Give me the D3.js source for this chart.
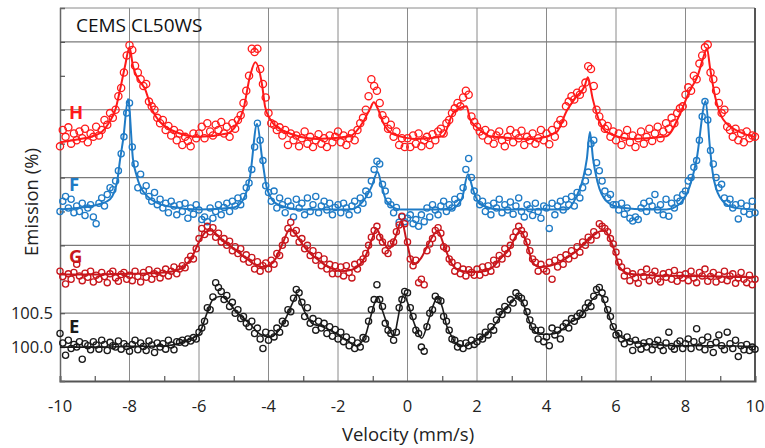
<!DOCTYPE html>
<html><head><meta charset="utf-8">
<script src="https://cdn.jsdelivr.net/npm/d3@7"></script>
<style>
html,body{margin:0;padding:0;background:#fff;}
svg text{font-family:"Open Sans",sans-serif;}
</style></head>
<body><svg id="c" width="765" height="448"></svg>
<script>
// velocity channels (mm/s): 251 channels from -10 to 10
const velocity = d3.range(251).map(i => Math.round((-10 + i * 0.08) * 100) / 100);

// measured points (Emission %), one value per channel
const pointsH = [
102.96,103.2,103.1,103.24,103.0,103.15,103.05,103.18,103.08,103.22,103.02,103.15,103.1,103.25,103.12,103.2,103.35,103.28,103.45,103.38,103.5,103.7,103.82,104.05,104.3,
104.45,104.38,104.15,104.05,103.95,103.85,103.88,103.62,103.55,103.5,103.38,103.3,103.35,103.2,103.26,103.12,103.2,103.05,103.15,102.98,103.1,103.04,102.96,103.15,103.08,
103.15,103.25,103.08,103.3,103.18,103.12,103.28,103.2,103.32,103.15,103.25,103.1,103.3,103.22,103.35,103.42,103.6,103.78,104.0,104.4,104.35,104.4,104.1,103.88,103.68,
103.45,103.3,103.28,103.2,103.24,103.12,103.2,102.98,103.15,103.05,103.12,102.96,103.08,103.18,103.0,103.1,102.95,103.05,103.14,103.0,103.08,102.95,103.12,103.02,103.1,
103.18,103.02,103.12,102.98,103.08,103.15,103.05,103.2,103.3,103.38,103.5,103.7,103.95,103.85,103.78,103.6,103.42,103.35,103.22,103.28,103.1,103.18,102.98,103.08,102.95,
103.08,102.95,103.12,103.0,103.15,102.96,103.05,103.1,102.98,103.14,103.05,103.18,103.22,103.15,103.3,103.35,103.45,103.52,103.6,103.55,103.68,103.78,103.72,103.4,103.32,
103.25,103.18,103.12,103.2,103.05,103.15,103.0,103.12,103.18,103.05,102.96,103.1,103.2,103.02,103.15,103.08,103.19,102.98,103.1,103.05,103.15,103.0,103.08,103.2,103.05,
103.15,102.99,103.2,103.1,103.28,103.35,103.3,103.55,103.62,103.7,103.65,103.75,103.72,103.8,103.9,104.14,104.1,103.85,103.5,103.4,103.3,103.22,103.26,103.1,103.18,
103.05,103.15,102.98,103.1,103.2,103.02,103.12,102.95,103.08,103.18,103.0,103.1,103.22,103.04,103.15,103.25,103.08,103.18,103.3,103.22,103.38,103.3,103.45,103.52,103.55,
103.72,103.83,103.78,104.0,103.95,104.18,104.3,104.42,104.46,104.05,103.95,103.78,103.6,103.45,103.5,103.25,103.2,103.1,103.22,103.05,103.15,103.02,103.18,103.08,103.12,
103.1];
const pointsF = [
102.0,102.15,102.22,102.05,102.18,101.98,102.08,102.0,102.12,101.94,102.05,102.1,101.92,101.82,102.12,102.2,102.08,102.25,102.35,102.32,102.45,102.6,102.85,103.1,103.45,
103.6,102.95,102.7,102.35,102.55,102.3,102.38,102.22,102.15,102.28,102.1,102.18,102.05,102.12,101.98,102.15,102.08,101.95,102.1,102.0,102.12,101.9,102.05,101.96,102.1,
102.02,101.88,101.92,101.85,102.05,101.9,102.0,102.1,101.95,102.06,102.12,102.0,102.15,102.08,102.2,102.1,102.22,102.35,102.42,102.62,102.95,103.3,103.05,102.75,102.38,
102.28,102.15,102.3,102.05,102.2,102.1,101.98,102.15,102.08,101.92,102.18,102.05,102.12,101.95,102.2,102.0,102.1,102.22,101.98,102.08,102.15,102.02,102.12,101.95,102.06,
102.1,101.98,102.12,102.05,101.95,102.08,102.15,102.02,102.2,102.12,102.3,102.25,102.45,102.62,102.74,102.7,102.4,102.3,102.15,102.1,101.98,102.06,101.84,101.92,101.85,
101.9,101.95,101.82,101.88,101.78,101.95,101.85,102.05,101.92,102.1,102.02,101.95,102.08,102.15,102.0,102.1,102.05,102.18,102.12,102.22,102.35,102.62,102.78,102.5,102.3,
102.2,102.1,102.15,102.0,102.08,101.95,102.12,102.05,102.18,101.98,102.1,102.02,102.14,101.96,102.08,102.2,102.0,101.92,102.1,102.04,101.94,102.12,102.0,101.9,102.08,
102.05,101.75,102.12,101.95,102.08,102.15,102.02,102.18,102.1,102.22,102.08,102.28,102.2,102.35,102.45,102.58,103.0,103.05,102.72,102.6,102.45,102.3,102.2,102.25,102.1,
102.1,102.02,102.12,101.96,102.05,101.9,101.86,101.92,101.88,102.05,102.12,102.0,102.15,102.08,102.25,102.02,102.1,101.95,102.18,101.93,102.12,102.05,102.2,102.15,102.25,
102.3,102.45,102.5,102.65,102.75,103.05,103.4,103.62,103.35,102.9,102.7,102.5,102.35,102.4,102.2,102.12,102.18,102.05,102.1,101.89,102.12,102.0,102.08,101.96,102.15,
101.98];
const pointsG = [
101.12,101.04,100.93,101.08,101.0,101.1,101.22,101.05,100.98,101.09,101.03,101.12,100.96,101.06,101.0,101.1,101.04,100.95,101.08,101.12,101.02,100.97,101.07,101.1,101.0,
101.06,100.98,101.12,101.04,100.96,101.1,101.03,101.14,101.0,101.08,101.12,101.02,101.09,101.15,101.05,101.12,101.18,101.08,101.15,101.2,101.17,101.28,101.34,101.3,101.45,
101.6,101.75,101.66,101.78,101.7,101.76,101.62,101.68,101.55,101.6,101.5,101.56,101.42,101.48,101.38,101.45,101.3,101.36,101.25,101.32,101.15,101.26,101.12,101.2,101.24,
101.15,101.28,101.22,101.38,101.35,101.5,101.58,101.75,101.84,101.68,101.72,101.55,101.6,101.45,101.5,101.35,101.42,101.28,101.35,101.2,101.3,101.15,101.22,101.08,101.2,
101.08,101.18,101.05,101.2,101.1,101.02,101.22,101.15,101.25,101.3,101.38,101.5,101.62,101.72,101.78,101.62,101.55,101.42,101.38,101.52,101.55,101.7,101.8,101.93,101.82,
101.55,101.3,101.2,101.28,100.95,101.0,100.92,101.42,101.52,101.6,101.72,101.76,101.68,101.48,101.45,101.3,101.25,101.12,101.2,101.08,101.15,101.05,101.14,101.1,101.06,
101.15,101.06,101.18,101.1,101.2,101.12,101.28,101.22,101.35,101.3,101.45,101.38,101.5,101.62,101.7,101.78,101.72,101.66,101.55,101.42,101.3,101.25,101.12,101.22,101.15,
101.12,101.25,101.0,101.28,101.18,101.32,101.22,101.36,101.3,101.42,101.35,101.48,101.4,101.55,101.5,101.62,101.58,101.7,101.65,101.82,101.78,101.75,101.7,101.6,101.52,
101.4,101.25,101.18,101.05,101.12,100.98,101.08,101.02,100.94,101.1,101.04,101.15,100.98,101.06,101.12,101.0,100.96,101.08,101.03,101.1,101.0,101.13,100.97,101.06,101.02,
101.08,100.98,101.12,101.02,100.95,101.1,101.05,101.15,100.97,101.04,101.1,100.96,101.06,101.0,101.12,100.98,101.05,101.08,100.94,101.02,101.1,101.0,100.95,101.06,100.92,
101.0];
const pointsE = [
100.2,100.06,99.88,100.1,99.98,100.04,100.0,100.08,99.82,100.05,100.02,99.96,100.08,100.03,99.97,100.1,100.04,99.95,100.07,100.02,100.0,100.09,99.97,100.05,100.01,
99.94,100.04,100.1,99.96,100.06,100.01,99.95,100.09,100.03,99.92,100.06,100.0,100.05,99.97,100.1,100.03,99.96,100.08,100.07,100.1,100.06,100.12,100.09,100.14,100.12,
100.22,100.28,100.38,100.58,100.55,100.74,100.95,100.88,100.82,100.7,100.76,100.6,100.66,100.5,100.55,100.42,100.45,100.35,100.3,100.38,100.2,100.28,100.12,99.98,100.22,
100.1,100.2,100.15,100.28,100.22,100.38,100.35,100.55,100.52,100.72,100.85,100.8,100.66,100.45,100.58,100.35,100.42,100.25,100.38,100.28,100.35,100.2,100.3,100.16,100.26,
100.12,100.22,100.08,100.15,100.02,100.1,99.98,100.06,100.0,100.14,100.12,100.38,100.55,100.7,100.92,100.7,100.6,100.35,100.25,100.2,100.1,100.22,100.58,100.7,100.82,
100.8,100.58,100.45,100.25,100.2,100.0,99.94,100.3,100.5,100.55,100.75,100.7,100.68,100.45,100.38,100.25,100.12,100.1,100.0,100.05,99.98,100.06,100.02,100.1,100.04,
100.08,100.15,100.12,100.22,100.18,100.3,100.25,100.4,100.52,100.48,100.6,100.55,100.7,100.65,100.8,100.75,100.72,100.65,100.52,100.4,100.3,100.25,100.12,100.25,100.08,
100.15,100.02,100.28,100.18,100.25,100.12,100.3,100.35,100.28,100.42,100.38,100.45,100.5,100.48,100.58,100.65,100.6,100.75,100.85,100.88,100.8,100.7,100.55,100.45,100.3,
100.18,100.2,100.12,100.05,100.15,100.08,99.95,100.1,100.04,99.97,100.06,100.0,100.08,99.96,100.04,100.1,100.02,99.95,100.06,100.22,100.01,99.97,100.05,100.09,99.98,
100.05,100.12,99.98,100.08,100.27,100.0,100.1,99.96,100.15,100.04,99.92,100.07,100.18,100.02,99.96,100.22,100.05,99.98,100.1,99.86,100.02,99.96,100.04,99.95,100.0,
99.97];

// fitted curves: [velocity, emission]
const fitH = [[-10,103.02],[-9.5,103.06],[-9.0,103.12],[-8.8,103.17],[-8.6,103.3],[-8.4,103.51],[-8.27,103.8],[-8.13,104.14],[-8.0,104.42],[-7.9,104.14],[-7.75,103.95],[-7.55,103.8],[-7.36,103.51],[-7.12,103.32],[-6.75,103.19],[-6.0,103.1],[-5.2,103.15],[-4.92,103.28],[-4.72,103.51],[-4.53,104.0],[-4.38,104.2],[-4.18,103.85],[-4.1,103.55],[-3.95,103.36],[-3.57,103.19],[-2.6,103.07],[-1.66,103.11],[-1.28,103.32],[-1.08,103.51],[-0.97,103.61],[-0.85,103.51],[-0.71,103.32],[-0.42,103.14],[0.27,103.07],[1.02,103.11],[1.3,103.44],[1.59,103.54],[1.7,103.55],[1.8,103.36],[2.0,103.24],[2.38,103.11],[3.6,103.07],[4.29,103.17],[4.58,103.48],[4.87,103.7],[5.1,103.85],[5.19,103.98],[5.33,103.66],[5.53,103.32],[5.73,103.17],[6.48,103.07],[7.45,103.11],[7.9,103.51],[8.12,103.78],[8.35,104.0],[8.5,104.25],[8.62,104.4],[8.7,104.14],[8.85,103.7],[9.08,103.36],[9.57,103.17],[10,103.1]];
const fitF = [[-10,102.03],[-9.5,102.05],[-8.85,102.11],[-8.56,102.18],[-8.36,102.43],[-8.27,102.77],[-8.18,103.07],[-8.04,103.66],[-7.9,102.77],[-7.79,102.52],[-7.5,102.23],[-6.93,102.08],[-5.97,102.03],[-5.0,102.06],[-4.72,102.18],[-4.53,102.52],[-4.33,103.29],[-4.18,102.77],[-4.04,102.33],[-3.76,102.11],[-3.1,102.03],[-1.66,102.03],[-1.28,102.15],[-1.03,102.37],[-0.86,102.58],[-0.74,102.37],[-0.6,102.15],[-0.21,102.03],[1.22,102.03],[1.56,102.18],[1.74,102.55],[1.88,102.33],[2.08,102.11],[2.66,102.03],[4.58,102.03],[4.87,102.23],[5.05,102.48],[5.16,102.77],[5.25,103.17],[5.34,102.77],[5.47,102.43],[5.73,102.15],[6.1,102.06],[6.97,102.03],[7.45,102.03],[7.83,102.11],[8.12,102.37],[8.32,102.77],[8.58,103.63],[8.7,102.96],[8.78,102.58],[8.99,102.21],[9.36,102.06],[10,102.03]];
const fitG = [[-10,101.07],[-9,101.07],[-8,101.08],[-7,101.1],[-6.6,101.14],[-6.4,101.2],[-6.2,101.33],[-6.0,101.55],[-5.8,101.7],[-5.65,101.72],[-5.5,101.66],[-5.3,101.56],[-5.0,101.45],[-4.7,101.33],[-4.4,101.22],[-4.2,101.18],[-4.0,101.2],[-3.8,101.3],[-3.6,101.52],[-3.38,101.74],[-3.2,101.65],[-3.0,101.5],[-2.8,101.38],[-2.6,101.3],[-2.4,101.22],[-2.2,101.16],[-1.9,101.12],[-1.6,101.14],[-1.4,101.2],[-1.2,101.35],[-1.0,101.62],[-0.89,101.74],[-0.75,101.6],[-0.53,101.45],[-0.35,101.62],[-0.17,101.86],[-0.02,101.55],[0.16,101.22],[0.4,101.32],[0.6,101.52],[0.87,101.71],[1.05,101.5],[1.25,101.25],[1.41,101.15],[1.8,101.11],[2.2,101.12],[2.5,101.2],[2.7,101.32],[2.95,101.46],[3.1,101.62],[3.25,101.71],[3.45,101.5],[3.6,101.25],[3.8,101.18],[4.1,101.2],[4.37,101.25],[4.66,101.34],[4.94,101.45],[5.23,101.6],[5.55,101.71],[5.68,101.72],[5.82,101.6],[5.97,101.4],[6.1,101.18],[6.4,101.08],[7,101.06],[8,101.05],[9,101.04],[10,101.03]];
const fitE = [[-10,100.0],[-9,100.0],[-8,100.01],[-7,100.02],[-6.6,100.05],[-6.4,100.09],[-6.0,100.19],[-5.8,100.46],[-5.6,100.7],[-5.37,100.75],[-5.1,100.63],[-4.93,100.52],[-4.68,100.41],[-4.53,100.34],[-4.24,100.19],[-3.95,100.15],[-3.67,100.27],[-3.47,100.46],[-3.3,100.66],[-3.17,100.78],[-3.03,100.6],[-2.9,100.46],[-2.72,100.34],[-2.5,100.31],[-2.2,100.24],[-1.93,100.16],[-1.65,100.07],[-1.48,100.02],[-1.22,100.16],[-1.08,100.41],[-0.94,100.66],[-0.86,100.74],[-0.71,100.52],[-0.53,100.27],[-0.39,100.16],[-0.28,100.41],[-0.19,100.66],[-0.1,100.78],[0.0,100.66],[0.18,100.37],[0.41,100.13],[0.59,100.37],[0.73,100.6],[0.87,100.74],[1.0,100.59],[1.13,100.31],[1.28,100.15],[1.42,100.04],[1.65,100.02],[1.94,100.09],[2.17,100.15],[2.37,100.24],[2.57,100.37],[2.74,100.52],[2.94,100.63],[3.17,100.74],[3.34,100.63],[3.45,100.46],[3.6,100.27],[3.8,100.19],[4.1,100.19],[4.4,100.24],[4.7,100.37],[5.0,100.46],[5.25,100.66],[5.53,100.78],[5.76,100.52],[5.9,100.31],[6.05,100.19],[6.4,100.09],[7,100.04],[8,100.02],[9,100.02],[10,100.01]];

const seriesNames = ["H","F","G","E"];
const seriesColors = {H:"#ff1a1a", F:"#1f7bc6", G:"#c8161c", E:"#1a1a1a"};
const labelLevels = {H:103.47, F:102.41, G:101.34, E:100.31};
const xTickLabels = [-10,-8,-6,-4,-2,0,2,4,6,8,10];
const yTickLabels = [100.0, 100.5];
const yGrid = [100.5, 101.5, 102.5, 103.5, 104.5];
const title = "CEMS CL50WS";

const svg = d3.select("#c");
const L = 60, R = 755, T = 8, B = 381;
const x = d3.scaleLinear().domain([-10, 10]).range([L, R]);
const y = d3.scaleLinear().domain([99.5, 105]).range([B, T]);

// grid
svg.append("g").selectAll("line").data(xTickLabels.filter(d => d > -10 && d < 10)).join("line")
  .attr("x1", d => x(d)).attr("x2", d => x(d)).attr("y1", T).attr("y2", B)
  .attr("stroke", "#8a8a8a").attr("stroke-width", 1);
svg.append("g").selectAll("line").data(yGrid).join("line")
  .attr("x1", L).attr("x2", R).attr("y1", d => y(d)).attr("y2", d => y(d))
  .attr("stroke", "#7a7a7a").attr("stroke-width", 1.2);
svg.append("line").attr("x1", L).attr("x2", R).attr("y1", T).attr("y2", T).attr("stroke", "#8a8a8a").attr("stroke-width", 1);

// axes
const xAxis = d3.axisBottom(x).tickValues(d3.range(-9, 10, 2)).tickSize(-5).tickFormat("");
svg.append("g").attr("transform", `translate(0,${B})`).call(xAxis)
  .call(g => g.select(".domain").attr("stroke", "#555").attr("stroke-width", 2))
  .call(g => g.selectAll(".tick line").attr("stroke", "#555").attr("stroke-width", 1.2));
svg.append("g").attr("transform", `translate(0,${B})`)
  .selectAll("text").data(xTickLabels).join("text")
  .attr("x", d => x(d)).attr("y", 31).attr("text-anchor", "middle")
  .attr("font-size", 16.5).attr("fill", "#222").text(d => d);

const yAxis = d3.axisLeft(y).tickValues(d3.range(100, 105, 0.5)).tickSize(-5).tickFormat("");
svg.append("g").attr("transform", `translate(${L},0)`).call(yAxis)
  .call(g => g.select(".domain").attr("stroke", "#666").attr("stroke-width", 1.5))
  .call(g => g.selectAll(".tick line").attr("stroke", "#555").attr("stroke-width", 1.2));
svg.append("g").selectAll("text").data(yTickLabels).join("text")
  .attr("x", 53).attr("y", d => y(d) + 6).attr("text-anchor", "end")
  .attr("font-size", 16.5).attr("fill", "#222").text(d => d.toFixed(1));
svg.append("line").attr("x1", R).attr("x2", R).attr("y1", T).attr("y2", B).attr("stroke", "#555").attr("stroke-width", 2);

// titles
svg.append("text").attr("x", 408).attr("y", 441).attr("text-anchor", "middle")
  .attr("font-size", 18.5).attr("fill", "#222").text("Velocity (mm/s)");
svg.append("text").attr("transform", "translate(38,202) rotate(-90)").attr("text-anchor", "middle")
  .attr("font-size", 18.5).attr("fill", "#222").text("Emission (%)");
svg.append("text").attr("x", 76).attr("y", 32).attr("font-size", 19).attr("fill", "#111").text(title);

const pts = {H: pointsH, F: pointsF, G: pointsG, E: pointsE};
const fits = {H: fitH, F: fitF, G: fitG, E: fitE};
const line = d3.line().x(d => x(d[0])).y(d => y(d[1])).curve(d3.curveMonotoneX);

seriesNames.forEach(name => {
  const col = seriesColors[name];
  const g = svg.append("g");
  g.selectAll("circle").data(pts[name].slice(0, velocity.length)).join("circle")
    .attr("cx", (d, i) => x(velocity[i])).attr("cy", d => y(d))
    .attr("r", name === "H" ? 3.6 : 3.1)
    .attr("fill", "none").attr("stroke", col).attr("stroke-width", 1.3);
  g.append("path").datum(fits[name]).attr("d", line)
    .attr("fill", "none").attr("stroke", col).attr("stroke-width", name === "E" ? 1.6 : 2);
  svg.append("text").attr("x", 69).attr("y", y(labelLevels[name]) + 7)
    .attr("font-size", 18.5).attr("font-weight", "bold").attr("fill", col).text(name);
});
</script></body></html>
